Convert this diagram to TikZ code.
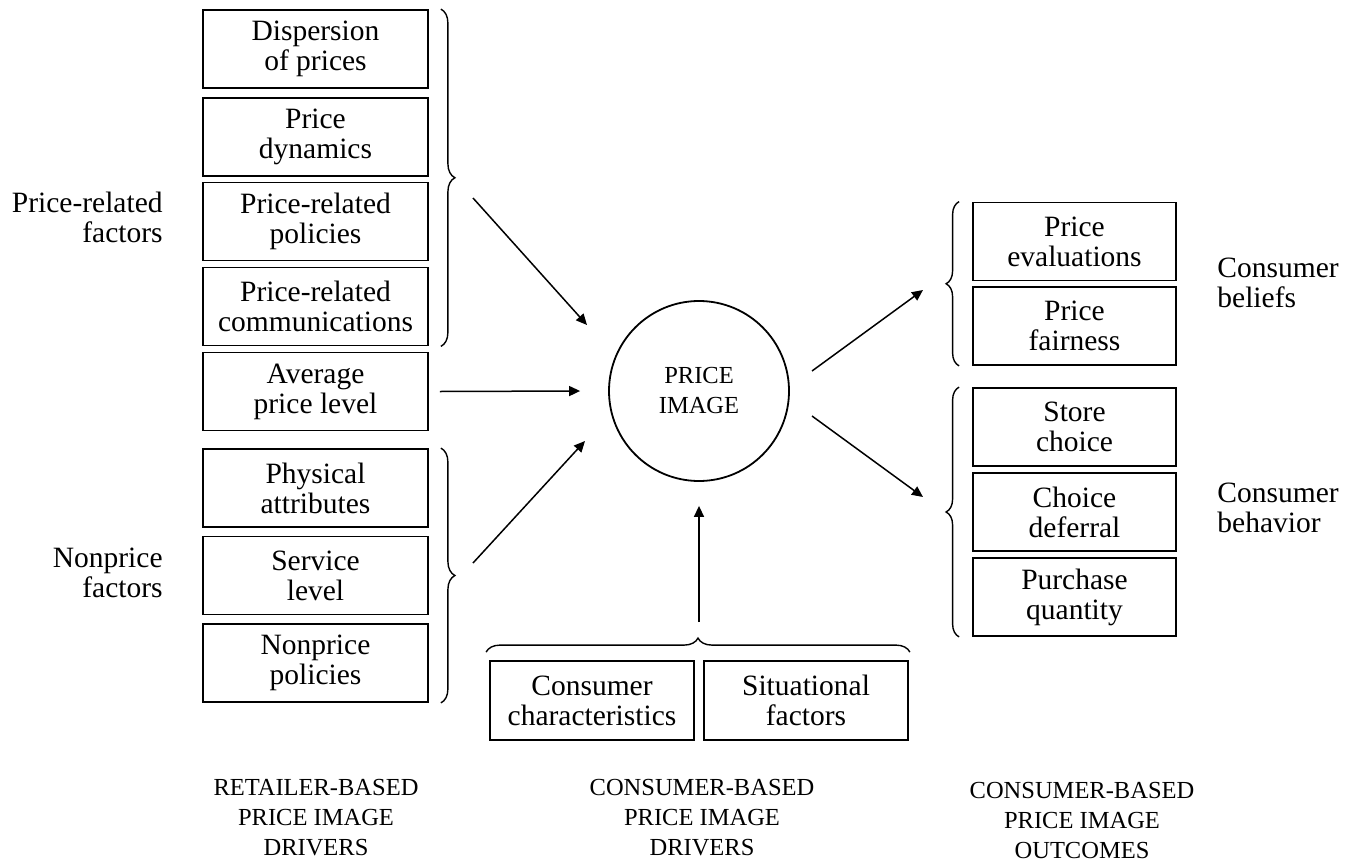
\documentclass[tikz,border=0pt]{standalone}
\usepackage{fontspec}
\setmainfont{Liberation Serif}
\usetikzlibrary{decorations.pathreplacing,positioning,calc,arrows.meta}

\begin{document}
\begin{tikzpicture}[x=0.5pt, y=-0.5pt,
        factor/.style={draw, line width=0.9pt, align=center, inner sep=0pt, minimum width=112.5pt, minimum height=39pt, font=\fontsize{14.75}{15}\selectfont},
        outcome/.style={factor, minimum width=101.5pt},
        driver/.style={factor, minimum width=102pt, minimum height=39.5pt},
        side/.style={inner sep=0pt, font=\fontsize{14.75}{15}\selectfont},
        caps/.style={align=center, inner sep=0pt, font=\fontsize{12.25}{15}\selectfont},
        brc/.style={decorate, decoration={brace, amplitude=7pt}, line width=0.7pt}]

        \useasboundingbox (0,0) rectangle (1354,862);

        \foreach \lab/\y [count=\c] in {Dispersion\\of prices/49, Price\\dynamics/137, Price-related\\policies/221.5,
            Price-related\\communications/306.5, Average\\price level/391.5, Physical\\attributes/488,
            Service\\level/575.5, Nonprice\\policies/663} {
                \node[factor] (f\c) at (315.5,\y) {\lab};

        }

        \foreach \lab/\y [count=\c] in {Price\\evaluations/241.5, Price\\fairness/326, Store\\choice/427,
            Choice\\deferral/512, Purchase\\quantity/597} {
                \node[outcome] (o\c) at (1074.5,\y) {\lab};

        }

        \node[driver] (cons) at (592,700.5) {Consumer\\characteristics};
        \node[driver] (sit) at (806,700.5) {Situational\\factors};

        \node[circle, draw, line width=0.9pt, minimum size=90pt, caps] (img) at (699,391) {PRICE\\IMAGE};

        \draw[brc] ($(f1.north east)+(12,0)$) -- ($(f4.south east)+(12,0)$);
        \draw[brc] ($(f6.north east)+(12,0)$) -- ($(f8.south east)+(12,0)$);
        \draw[brc, decoration={amplitude=6.5pt}] ($(o2.south west)+(-13,0)$) -- ($(o1.north west)+(-13,0)$);
        \draw[brc, decoration={amplitude=6.5pt}] ($(o5.south west)+(-13,0)$) -- ($(o3.north west)+(-13,0)$);
        \draw[brc] ($(cons.north west)+(-3,-8)$) -- ($(sit.north east)+(1,-8)$);

        \coordinate (pr) at (473,198);
        \coordinate (prtip) at (587,325);
        \coordinate (np) at (473,563);
        \coordinate (nptip) at (585,441);
        \coordinate (cb) at (699,622);
        \coordinate (beltip) at (923,290);
        \coordinate (behtip) at (923,497);

        \begin{scope}[every path/.style={-{Triangle[length=5.5pt, width=5pt]}, line width=0.75pt}]
            \path[draw] (pr) to (prtip);
            \path[draw] ([xshift=5.5pt]f5.east) to ([xshift=-14pt]img.west);
            \path[draw] (np) to (nptip);
            \path[draw] (cb) to ([yshift=-12pt]img.south);
            \path[draw] ([shift={(56.5pt,10pt)}]img.center) to (beltip);
            \path[draw] ([shift={(56.5pt,-12.5pt)}]img.center) to (behtip);
        \end{scope}

        \node[side, anchor=east, align=right] (prf) at (163,217) {Price-related\\factors};
        \node[side, anchor=east, align=right] (npf) at (163,573) {Nonprice\\factors};
        \node[side, anchor=west, align=left] (bel) at (1217,283) {Consumer\\beliefs};
        \node[side, anchor=west, align=left] (beh) at (1217,508) {Consumer\\behavior};

        \node[caps] (rbd) at (316,817.5) {RETAILER-BASED\\PRICE IMAGE\\DRIVERS};
        \node[caps] (cbd) at (702,817.5) {CONSUMER-BASED\\PRICE IMAGE\\DRIVERS};
        \node[caps] (cbo) at (1082,820) {CONSUMER-BASED\\PRICE IMAGE\\OUTCOMES};

    \end{tikzpicture}
\end{document}
